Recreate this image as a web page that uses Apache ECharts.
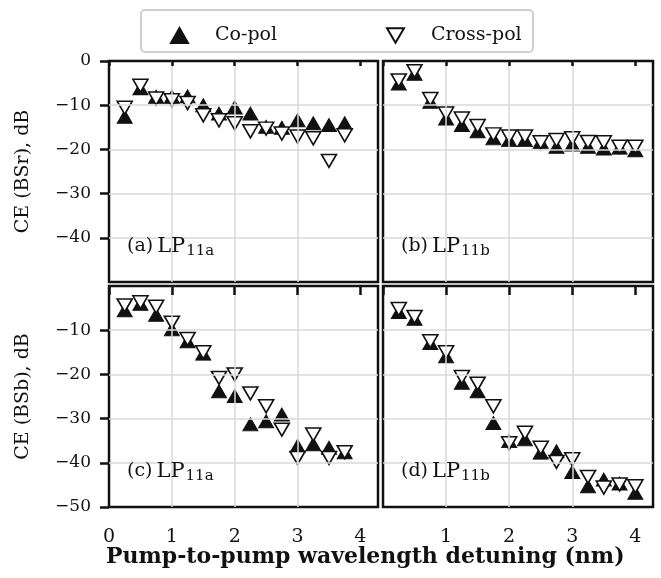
<!DOCTYPE html>
<html>
<head>
<meta charset="utf-8">
<script src="https://cdn.jsdelivr.net/npm/echarts@6/dist/echarts.min.js"></script>
<style>
html, body { margin: 0; padding: 0; background: #fff; }
#chart { width: 661px; height: 578px; }
</style>
</head>
<body>
<div id="chart"></div>
<script>
// detuning (nm)
var detuningShort = [0.25, 0.5, 0.75, 1, 1.25, 1.5, 1.75, 2, 2.25, 2.5, 2.75, 3, 3.25, 3.5, 3.75];
var detuningLong = [0.25, 0.5, 0.75, 1, 1.25, 1.5, 1.75, 2, 2.25, 2.5, 2.75, 3, 3.25, 3.5, 3.75, 4];

// (a) BSr, LP11a
var coPolBSrA = [-12.6, -6.2, -8.1, -8.1, -8.0, -10.0, -11.9, -10.5, -11.9, -14.9, -15.1, -13.4, -14.1, -14.5, -14.1];
var crossPolBSrA = [-10.6, -5.6, -8.5, -8.9, -9.5, -12.3, -13.4, -14.1, -15.9, -15.3, -16.4, -17.1, -17.5, -22.6, -16.8];
// (b) BSr, LP11b
var coPolBSrB = [-5.1, -2.9, -9.2, -13.0, -14.5, -15.9, -17.5, -17.9, -17.9, -18.3, -19.4, -18.9, -19.4, -19.8, -19.6, -20.2];
var crossPolBSrB = [-4.4, -2.3, -8.6, -11.9, -13.0, -14.7, -16.6, -17.1, -17.1, -18.4, -17.9, -17.5, -18.3, -18.4, -19.4, -19.4];
// (c) BSb, LP11a
var coPolBSbA = [-5.5, -4.0, -6.5, -9.8, -12.5, -15.3, -23.8, -24.9, -31.3, -30.6, -29.1, -36.2, -35.8, -36.6, -37.6];
var crossPolBSbA = [-4.4, -3.7, -4.7, -8.3, -12.0, -15.0, -20.8, -20.0, -24.3, -27.2, -32.5, -38.9, -33.6, -38.9, -37.6];
// (d) BSb, LP11b
var coPolBSbB = [-5.9, -7.4, -12.9, -15.9, -21.9, -23.8, -31.0, -35.1, -34.7, -37.7, -37.4, -42.1, -45.3, -43.8, -44.7, -46.8];
var crossPolBSbB = [-5.2, -7.0, -12.5, -15.0, -20.6, -22.1, -27.2, -35.6, -33.2, -36.6, -39.8, -39.2, -43.2, -45.6, -44.9, -45.3];

var xTicks = [0, 1, 2, 3, 4];
var panelTags = ['(a)', '(b)', '(c)', '(d)'];
var panelModes = ['11a', '11b', '11a', '11b'];

var FONT = 'DejaVu Serif';
var INK = '#111';
var downTri = 'path://M0,0 L10,0 L5,8.66 Z';

function zip(xs, ys) {
    var out = [];
    for (var i = 0; i < ys.length; i++) out.push([xs[i], ys[i]]);
    return out;
}
function minus(v) {
    return String(v).replace('-', '\u2212');
}

var grids = [
    {left: 109, top: 61, width: 269, height: 221},
    {left: 383, top: 61, width: 270, height: 221},
    {left: 109, top: 286, width: 269, height: 221},
    {left: 383, top: 286, width: 270, height: 221}
];

var panels = [
    {co: zip(detuningShort, coPolBSrA), cross: zip(detuningShort, crossPolBSrA)},
    {co: zip(detuningLong, coPolBSrB), cross: zip(detuningLong, crossPolBSrB)},
    {co: zip(detuningShort, coPolBSbA), cross: zip(detuningShort, crossPolBSbA)},
    {co: zip(detuningLong, coPolBSbB), cross: zip(detuningLong, crossPolBSbB)}
];

var xAxes = [], yAxes = [], series = [], labels = [];

grids.forEach(function(g, i) {
    g.show = true;
    g.borderColor = INK;
    g.borderWidth = 2.5;
    g.backgroundColor = '#fff';
    var isBottom = i >= 2, isLeft = i % 2 === 0;

    xAxes.push({
        gridIndex: i, type: 'value', min: 0, max: 4.28, interval: 1, z: 3,
        axisLine: {show: false},
        axisTick: {show: true, inside: false, length: isBottom ? 9 : 5, customValues: xTicks,
            lineStyle: {color: INK, width: 2.5}},
        axisLabel: {show: isBottom, customValues: isLeft ? xTicks : xTicks.slice(1), margin: 21,
            fontFamily: FONT, fontSize: 19, color: INK},
        splitLine: {show: true, showMinLine: false, showMaxLine: false,
            lineStyle: {color: '#d8d8d8', width: 1.5}}
    });
    yAxes.push({
        gridIndex: i, type: 'value', min: -50, max: 0, interval: 10, z: 3,
        name: isLeft ? (isBottom ? 'CE (BSb), dB' : 'CE (BSr), dB') : '',
        nameLocation: 'middle', nameGap: 76,
        nameTextStyle: {fontFamily: FONT, fontSize: 19, color: INK},
        axisLine: {show: false},
        axisTick: {show: isLeft, inside: false, length: 9, lineStyle: {color: INK, width: 2.5}},
        axisLabel: {show: isLeft, margin: 18, fontFamily: FONT, fontSize: 17, color: INK,
            showMinLabel: isBottom, showMaxLabel: !isBottom, formatter: minus},
        splitLine: {show: true, showMinLine: false, showMaxLine: false,
            lineStyle: {color: '#d8d8d8', width: 1.5}}
    });
    series.push({
        name: 'Co-pol', type: 'scatter', xAxisIndex: i, yAxisIndex: i,
        symbol: 'triangle', symbolSize: [15, 13],
        itemStyle: {color: INK, borderColor: INK, borderWidth: 1, opacity: 1},
        data: panels[i].co
    });
    series.push({
        name: 'Cross-pol', type: 'scatter', xAxisIndex: i, yAxisIndex: i,
        symbol: downTri, symbolSize: [15, 13],
        itemStyle: {color: '#fff', borderColor: INK, borderWidth: 1.6, opacity: 1},
        data: panels[i].cross
    });
    labels.push({
        type: 'text', left: g.left + 18, top: g.top + g.height - 46, z: 10,
        style: {
            text: '{t|' + panelTags[i] + '}{lp|LP}{s|' + panelModes[i] + '}',
            rich: {
                t: {fontFamily: FONT, fontSize: 19, fill: INK, padding: [0, 4, 0, 0]},
                lp: {fontFamily: FONT, fontSize: 21, fill: INK},
                s: {fontFamily: FONT, fontSize: 15, fill: INK, padding: [10, 0, 0, 1]}
            }
        }
    });
});

var legendText = {fontFamily: FONT, fontSize: 19, color: INK, padding: [0, 0, 0, 22]};

var option = {
    animation: false,
    backgroundColor: '#fff',
    grid: grids,
    xAxis: xAxes,
    yAxis: yAxes,
    series: series,
    legend: [
        {data: ['Co-pol'], left: 165, top: 21, itemWidth: 17, itemHeight: 15, selectedMode: false, textStyle: legendText},
        {data: ['Cross-pol'], left: 381, top: 21, itemWidth: 17, itemHeight: 15, selectedMode: false, textStyle: legendText}
    ],
    graphic: labels.concat([
        {
            type: 'rect', left: 140, top: 9, z: -1,
            shape: {width: 392, height: 42, r: 4},
            style: {fill: '#fff', stroke: '#cfcfcf', lineWidth: 2}
        },
        {
            type: 'text', left: 106, top: 546,
            style: {text: 'Pump-to-pump wavelength detuning (nm)', fontFamily: FONT, fontWeight: 'bold', fontSize: 22, fill: INK}
        }
    ])
};

var myChart = echarts.init(document.getElementById('chart'));
myChart.setOption(option);
</script>
</body>
</html>
